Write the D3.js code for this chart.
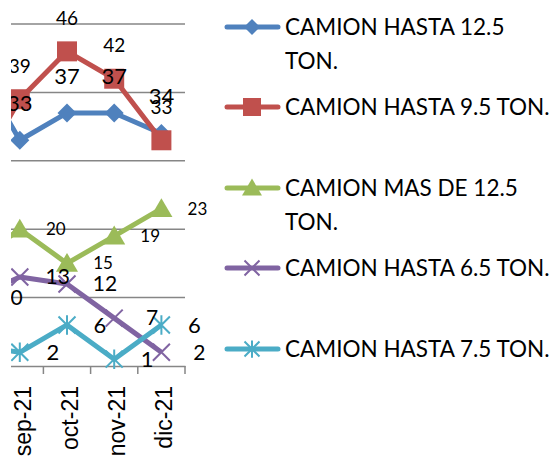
<!DOCTYPE html>
<html>
<head>
<meta charset="utf-8">
<script src="https://cdn.jsdelivr.net/npm/d3@7"></script>
<style>
  body { margin: 0; background: #fff; }
  svg { display: block; font-family: Lato, "Noto Sans", sans-serif; }
</style>
</head>
<body>
<script>
// months (the first one is cut off by the left edge of the picture)
const months = ["ago-21", "sep-21", "oct-21", "nov-21", "dic-21"];

const camion125 = [45, 33, 37, 37, 34];
const camion95 = [27, 39, 46, 42, 33];
const camionMas125 = [15, 20, 15, 19, 23];
const camion65 = [10, 13, 12, 7, 2];
const camion75 = [3, 2, 6, 1, 6];

const gridValues = [10, 20, 30, 40, 50];

const seriesNames = [
    ["CAMION HASTA 12.5", "TON."],
    ["CAMION HASTA 9.5 TON."],
    ["CAMION MAS DE 12.5", "TON."],
    ["CAMION HASTA 6.5 TON."],
    ["CAMION HASTA 7.5 TON."]
];

const series = [
    { name: seriesNames[0], values: camion125, color: "#4F81BD", marker: "diamond", label: { dx: 0, dy: -37, size: 22 }, labelAug: false },
    { name: seriesNames[1], values: camion95, color: "#C0504D", marker: "square", label: { dx: 0, dy: -33, size: 19 }, labelAug: false },
    { name: seriesNames[2], values: camionMas125, color: "#9BBB59", marker: "triangle", label: { dx: 36, dy: 0, size: 17 }, labelAug: false },
    { name: seriesNames[3], values: camion65, color: "#8064A2", marker: "x", label: { dx: 38, dy: 0, size: 21 }, labelAug: true },
    { name: seriesNames[4], values: camion75, color: "#4BACC6", marker: "star", label: { dx: 33, dy: 0, size: 22 }, labelAug: false }
];

const svgWidth = 559, svgHeight = 461;
const plotLeft = 11; // picture is cropped here

const svg = d3.select("body").append("svg")
    .attr("width", svgWidth)
    .attr("height", svgHeight);

svg.append("defs").append("clipPath").attr("id", "crop")
    .append("rect")
    .attr("x", plotLeft).attr("y", 0)
    .attr("width", svgWidth).attr("height", svgHeight);

//SCALES
const x = d3.scaleBand()
    .domain(months)
    .range([-51, 185])
    .padding(0);

const y = d3.scaleLinear()
    .domain([0, 50])
    .range([366, 24]);

const cx = d => x(d) + x.bandwidth() / 2;

const chart = svg.append("g").attr("clip-path", "url(#crop)");

//GRIDLINES
chart.append("g")
    .selectAll("line")
    .data(gridValues)
    .join("line")
    .attr("x1", x.range()[0])
    .attr("x2", x.range()[1])
    .attr("y1", d => y(d))
    .attr("y2", d => y(d))
    .attr("stroke", "#868686")
    .attr("stroke-width", 1.5);

//X AXIS
const xAxis = d3.axisBottom(x)
    .tickSize(0)
    .tickFormat("");

const axisG = chart.append("g")
    .attr("transform", `translate(0, ${y(0)})`)
    .call(xAxis);
axisG.select(".domain").attr("stroke", "#868686").attr("stroke-width", 1.5);

// tick marks sit on the category boundaries
axisG.selectAll(".boundary")
    .data(months)
    .join("line")
    .attr("class", "boundary")
    .attr("x1", d => x(d) + x.bandwidth())
    .attr("x2", d => x(d) + x.bandwidth())
    .attr("y1", 0)
    .attr("y2", 8)
    .attr("stroke", "#868686")
    .attr("stroke-width", 1.5);

axisG.selectAll(".mlabel")
    .data(months)
    .join("text")
    .attr("class", "mlabel")
    .attr("transform", d => `translate(${cx(d) + 3}, 20) rotate(-90)`)
    .attr("text-anchor", "end")
    .attr("dy", "0.35em")
    .attr("font-size", 23)
    .attr("fill", "#000")
    .text(d => d);

//MARKERS
function markerPath(type, r) {
    if (type === "diamond") return `M0,${-r}L${r},0L0,${r}L${-r},0Z`;
    if (type === "square") return `M${-r},${-r}H${r}V${r}H${-r}Z`;
    if (type === "triangle") return `M0,${-r}L${r * 1.05},${r * 0.8}L${-r * 1.05},${r * 0.8}Z`;
    if (type === "x") return `M${-r},${-r}L${r},${r}M${r},${-r}L${-r},${r}`;
    if (type === "star") return `M${-r},${-r}L${r},${r}M${r},${-r}L${-r},${r}M0,${-r * 1.15}L0,${r * 1.15}`;
}
const markerSize = { diamond: 9.5, square: 10, triangle: 10.5, x: 8.5, star: 8.5 };
const legendSize = { diamond: 8, square: 9, triangle: 9.5, x: 7.5, star: 7.5 };
const isStroked = t => t === "x" || t === "star";

function drawMarker(g, type, color, r) {
    g.append("path")
        .attr("d", markerPath(type, r))
        .attr("fill", isStroked(type) ? "none" : color)
        .attr("stroke", color)
        .attr("stroke-width", isStroked(type) ? 2 : 0);
}

//LINES
const line = d3.line()
    .x((d, i) => cx(months[i]))
    .y(d => y(d));

series.forEach(s => {
    const g = chart.append("g");
    g.append("path")
        .datum(s.values)
        .attr("fill", "none")
        .attr("stroke", s.color)
        .attr("stroke-width", 5)
        .attr("stroke-linejoin", "round")
        .attr("d", line);

    s.values.forEach((v, i) => {
        const mg = g.append("g").attr("transform", `translate(${cx(months[i])}, ${y(v)})`);
        drawMarker(mg, s.marker, s.color, markerSize[s.marker]);
    });
});

//DATA LABELS
series.forEach(s => {
    chart.append("g")
        .selectAll("text")
        .data(s.values.map((v, i) => ({ v, m: months[i], i })).filter(d => d.i > 0 || s.labelAug))
        .join("text")
        .attr("x", d => cx(d.m) + s.label.dx)
        .attr("y", d => y(d.v) + s.label.dy)
        .attr("dy", "0.35em")
        .attr("text-anchor", "middle")
        .attr("font-size", s.label.size)
        .attr("fill", "#000")
        .text(d => d.v);
});

//LEGEND
const legendRows = [27, 107, 188, 268, 349];
const legend = svg.append("g");
series.forEach((s, i) => {
    const g = legend.append("g").attr("transform", `translate(0, ${legendRows[i]})`);
    g.append("line")
        .attr("x1", 227).attr("x2", 278)
        .attr("y1", 0).attr("y2", 0)
        .attr("stroke", s.color)
        .attr("stroke-width", 5)
        .attr("stroke-linecap", "round");
    const mg = g.append("g").attr("transform", "translate(252, 0)");
    drawMarker(mg, s.marker, s.color, legendSize[s.marker]);
    s.name.forEach((t, j) => {
        g.append("text")
            .attr("x", 285)
            .attr("y", j * 34.5)
            .attr("dy", "0.35em")
            .attr("font-size", 22.5)
            .attr("fill", "#000")
            .text(t);
    });
});
</script>
</body>
</html>
